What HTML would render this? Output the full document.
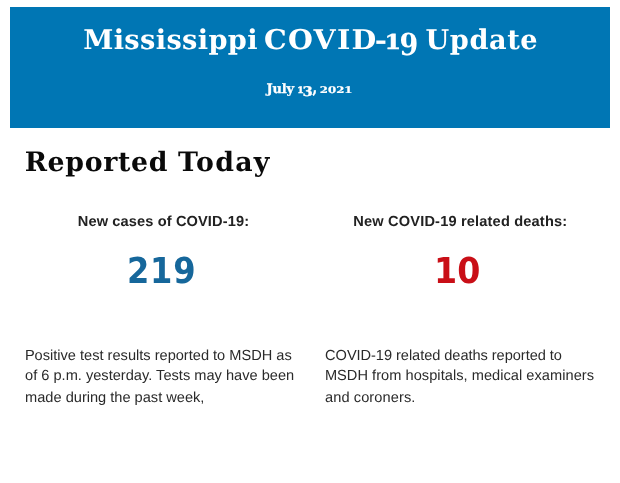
<!DOCTYPE html>
<html><head><meta charset="utf-8">
<title>Mississippi COVID-19 Update</title>
<style>
html,body{margin:0;padding:0;background:#fff;}
body{width:620px;height:483px;position:relative;overflow:hidden;font-family:"Liberation Sans",sans-serif;color:#111;text-rendering:geometricPrecision;}
.banner{position:absolute;left:10px;top:7px;width:600px;height:121px;background:#0076b4;}
.line{position:absolute;left:0;top:0;width:620px;height:0;margin:0;padding:0;font-size:0;line-height:0;font-weight:normal;white-space:nowrap;}
.t{display:inline-block;position:relative;width:0;vertical-align:top;white-space:nowrap;transform-origin:0 0;text-rendering:geometricPrecision;}
.serif{font-family:"DejaVu Serif","Liberation Serif",serif;font-weight:bold;}
.h1{font-size:27.2px;line-height:40px;height:40px;color:#fff;}
.dt{font-size:13px;line-height:19px;height:19px;color:#fff;-webkit-text-stroke:.3px #fff;}
.os{-webkit-text-stroke:.55px #fff;}
.h2{font-size:26.8px;line-height:40px;height:40px;color:#0a0a0a;}
.lbl{font-weight:bold;font-size:14.6px;line-height:21px;height:21px;color:#222;}
.num{font-family:"DejaVu Sans Condensed","DejaVu Sans","Liberation Sans",sans-serif;font-weight:bold;font-size:35.7px;line-height:53px;height:53px;}
.p{font-size:14.6px;line-height:21px;height:21px;color:#2a2a2a;}
</style></head><body>
<div class="banner"></div>
<h1 class="line"><span class="t serif h1" style="left:83.2px;top:20px;letter-spacing:0.37px;">Mississippi</span> <span class="t serif h1" style="left:263.9px;top:20px;letter-spacing:1.2px;transform:scaleX(1.0484);">COVID</span><span class="t serif h1" style="left:371px;top:25px;transform:translate(3.83px,-3.07px) scale(1.0831,0.9317);">-</span><span class="t serif h1 os" style="left:382px;top:18px;transform:translate(2.47px,9.15px) scale(0.8794,0.7505);">1</span><span class="t serif h1" style="left:396px;top:17px;transform:translate(3.44px,5.30px) scale(0.9902,1.1163);">9</span> <span class="t serif h1" style="left:425.6px;top:20px;letter-spacing:0.55px;">Update</span></h1>
<div class="line"><span class="t serif dt" style="left:266.5px;top:80px;letter-spacing:-0.21px;">July</span> <span class="t serif dt os" style="left:293px;top:71px;transform:translate(4.30px,13.22px) scale(0.7329,0.6749);">1</span><span class="t serif dt" style="left:298px;top:71px;transform:translate(4.38px,11.28px) scale(1.1345,1.0265);">3</span><span class="t serif dt" style="left:308px;top:75px;transform:translate(4.61px,1.23px) scale(1.0164,1.2683);">,</span> <span class="t serif dt" style="left:315px;top:71px;transform:translate(4.79px,12.66px) scale(0.9037,0.7044);">2021</span></div>
<h2 class="line"><span class="t serif h2" style="left:24.7px;top:143px;letter-spacing:0.64px;">Reported</span> <span class="t serif h2" style="left:177.9px;top:143px;letter-spacing:1.26px;">Today</span></h2>
<div class="line"><span class="t lbl" style="left:77.8px;top:212px;letter-spacing:0.12px;">New cases of COVID-19:</span></div>
<div class="line"><span class="t lbl" style="left:353.3px;top:212px;letter-spacing:0.17px;">New COVID-19 related deaths:</span></div>
<div class="line"><span class="t num" style="left:127.0px;top:245px;letter-spacing:0.75px;color:#16679b;">219</span></div>
<div class="line"><span class="t num" style="left:434.0px;top:245px;transform:scaleX(1.0356);color:#c90f17;">10</span></div>
<p class="line"><span class="t p" style="left:24.9px;top:346px;">Positive test results reported to MSDH as</span> <span class="t p" style="left:25.0px;top:366px;letter-spacing:0.01px;">of 6 p.m. yesterday. Tests may have been</span> <span class="t p" style="left:25.1px;top:388px;">made during the past week,</span></p>
<p class="line"><span class="t p" style="left:325.1px;top:346px;letter-spacing:-0.05px;">COVID-19 related deaths reported to</span> <span class="t p" style="left:324.9px;top:366px;letter-spacing:0.04px;">MSDH from hospitals, medical examiners</span> <span class="t p" style="left:325.0px;top:388px;letter-spacing:0.09px;">and coroners.</span></p>
</body></html>
